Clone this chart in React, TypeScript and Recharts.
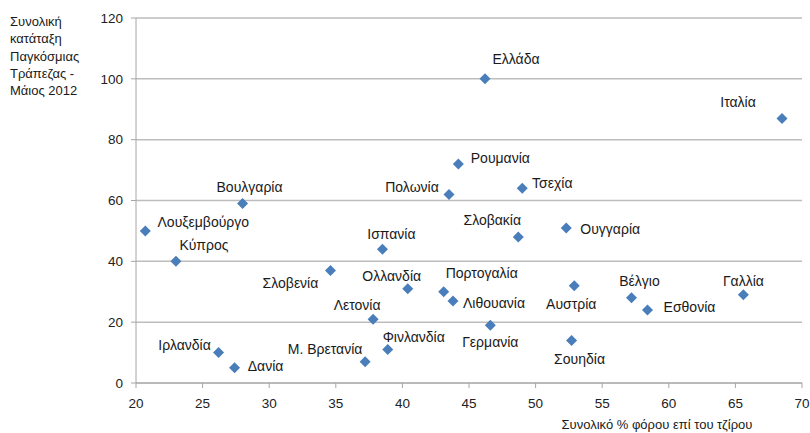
import React from "react";
import { ScatterChart, Scatter, XAxis, YAxis, CartesianGrid } from "recharts";

const countries = [
  "Ελλάδα", "Ιταλία", "Ρουμανία", "Πολωνία", "Τσεχία", "Σλοβακία", "Ουγγαρία",
  "Πορτογαλία", "Λιθουανία", "Αυστρία", "Βέλγιο", "Εσθονία", "Γαλλία", "Γερμανία",
  "Σουηδία", "Βουλγαρία", "Λουξεμβούργο", "Κύπρος", "Ισπανία", "Σλοβενία",
  "Ολλανδία", "Λετονία", "Ιρλανδία", "Δανία", "Μ. Βρετανία", "Φινλανδία",
];
const taxRate = [
  46.2, 68.5, 44.2, 43.5, 49.0, 48.7, 52.3,
  43.1, 43.8, 52.9, 57.2, 58.4, 65.6, 46.6,
  52.7, 28.0, 20.7, 23.0, 38.5, 34.6,
  40.4, 37.8, 26.2, 27.4, 37.2, 38.9,
];
const rank = [
  100, 87, 72, 62, 64, 48, 51,
  30, 27, 32, 28, 24, 29, 19,
  14, 59, 50, 40, 44, 37,
  31, 21, 10, 5, 7, 11,
];
const xTicks = [20, 25, 30, 35, 40, 45, 50, 55, 60, 65, 70];
const yTicks = [0, 20, 40, 60, 80, 100, 120];
const yTitleLines = ["Συνολική", "κατάταξη", "Παγκόσμιας", "Τράπεζας -", "Μάιος 2012"];
const xTitle = "Συνολικό % φόρου επί του τζίρου";

// label placement relative to each marker (layout only)
const labelOffsets: Record<string, [number, number]> = {
  "Ελλάδα": [31, -20],
  "Ιταλία": [-44, -16],
  "Ρουμανία": [42, -6],
  "Πολωνία": [-37, -7],
  "Τσεχία": [30, -5],
  "Σλοβακία": [-26, -17],
  "Ουγγαρία": [44, 1],
  "Πορτογαλία": [38, -19],
  "Λιθουανία": [41, 2],
  "Αυστρία": [-3, 18],
  "Βέλγιο": [8, -17],
  "Εσθονία": [42, -3],
  "Γαλλία": [0, -14],
  "Γερμανία": [0, 17],
  "Σουηδία": [8, 19],
  "Βουλγαρία": [7, -17],
  "Λουξεμβούργο": [58, -9],
  "Κύπρος": [28, -16],
  "Ισπανία": [9, -15],
  "Σλοβενία": [-40, 13],
  "Ολλανδία": [-16, -13],
  "Λετονία": [-16, -14],
  "Ιρλανδία": [-34, -8],
  "Δανία": [31, -2],
  "Μ. Βρετανία": [-40, -13],
  "Φινλανδία": [26, -13],
};

const data = countries.map((name, i) => ({ name, x: taxRate[i], y: rank[i] }));

const FONT = "'Liberation Sans', Arial, sans-serif";

const DiamondWithLabel = (props: any) => {
  const { cx, cy, payload } = props;
  if (cx == null || cy == null) return null;
  const r = 5.5;
  const off = labelOffsets[payload.name] || [0, -14];
  return (
    <g>
      <polygon
        points={`${cx},${cy - r} ${cx + r},${cy} ${cx},${cy + r} ${cx - r},${cy}`}
        fill="#4a7ebb"
      />
      <text
        x={cx + off[0]}
        y={cy + off[1]}
        textAnchor="middle"
        dominantBaseline="central"
        fontFamily={FONT}
        fontSize={14}
        fill="#1a1a1a"
      >
        {payload.name}
      </text>
    </g>
  );
};

export default function App() {
  return (
    <div style={{ position: "absolute", left: 0, top: 0, width: 810, height: 433, background: "#fff" }}>
      <ScatterChart
        width={810}
        height={433}
        margin={{ top: 18, right: 8, bottom: 0, left: 0 }}
      >
        <CartesianGrid vertical={false} stroke="#bdbdbd" strokeWidth={1.5} />
        <XAxis
          type="number"
          dataKey="x"
          domain={[20, 70]}
          ticks={xTicks}
          interval={0}
          tickSize={5}
          tickMargin={10}
          stroke="#a6a6a6"
          tick={{ fill: "#222", fontSize: 13.5, fontFamily: FONT }}
          height={50}
        />
        <YAxis
          type="number"
          dataKey="y"
          domain={[0, 120]}
          ticks={yTicks}
          interval={0}
          tickSize={5}
          tickMargin={8}
          width={136}
          stroke="#a6a6a6"
          tick={{ fill: "#222", fontSize: 13.5, fontFamily: FONT }}
        />
        <Scatter data={data} shape={DiamondWithLabel} isAnimationActive={false} />
      </ScatterChart>
      <div
        style={{
          position: "absolute",
          left: 10,
          top: 13,
          fontFamily: FONT,
          fontSize: 13,
          lineHeight: "17.3px",
          color: "#1a1a1a",
        }}
      >
        {yTitleLines.map((l) => (
          <div key={l}>{l}</div>
        ))}
      </div>
      <div
        style={{
          position: "absolute",
          left: 557,
          top: 416,
          width: 200,
          textAlign: "center",
          fontFamily: FONT,
          fontSize: 13,
          lineHeight: "17px",
          color: "#1a1a1a",
          whiteSpace: "nowrap",
        }}
      >
        {xTitle}
      </div>
    </div>
  );
}
